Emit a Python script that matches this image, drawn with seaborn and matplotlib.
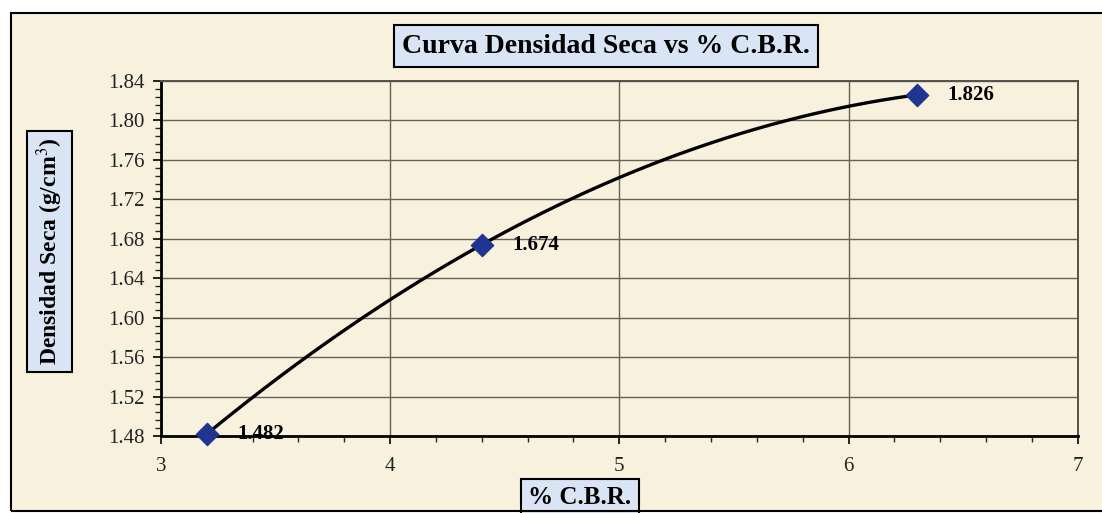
import numpy as np
import pandas as pd
import seaborn as sns
import matplotlib
matplotlib.use("Agg")
import matplotlib.pyplot as plt
from matplotlib.patches import Rectangle
from matplotlib.ticker import MultipleLocator, FormatStrFormatter

cbr = [3.2, 4.4, 6.3]
densidad = [1.482, 1.674, 1.826]
labels = ["1.482", "1.674", "1.826"]
title = "Curva Densidad Seca vs % C.B.R."
xlabel = "% C.B.R."
ylabel = "Densidad Seca (g/cm$^3$)"

df = pd.DataFrame({"cbr": cbr, "dens": densidad})

sns.set_style("white")
plt.rcParams["font.family"] = ["Liberation Serif", "DejaVu Serif"]
plt.rcParams["mathtext.fontset"] = "stix"
plt.rcParams["text.color"] = "black"

bg = "#f8f1dd"
fig = plt.figure(figsize=(11.02, 5.13), dpi=100, facecolor="white")
fig.patches.append(Rectangle((0.010, 0.004), 0.995, 0.970, transform=fig.transFigure,
                             facecolor=bg, edgecolor="none", zorder=-5))
fig.patches.append(Rectangle((0.010, 0.004), 0.995, 0.970, transform=fig.transFigure,
                             fill=False, edgecolor="black", linewidth=1.5, zorder=10))
ax = fig.add_axes([0.146, 0.150, 0.832, 0.692])
ax.set_zorder(1)
ax.set_facecolor(bg)

sns.regplot(data=df, x="cbr", y="dens", order=2, ci=None, truncate=True, ax=ax,
            scatter=False, line_kws=dict(color="black", lw=2.4, zorder=3))
sns.scatterplot(data=df, x="cbr", y="dens", marker="D", s=130, color="#1f3591",
                edgecolor="#1f3591", ax=ax, zorder=4, clip_on=False)

for xv, yv, t in zip(cbr, densidad, labels):
    ax.annotate(t, (xv, yv), xytext=(22, 0), textcoords="offset points", fontsize=15,
                fontweight="bold", va="center", ha="left", zorder=5, color="black")

ax.set_xlim(3, 7)
ax.set_ylim(1.48, 1.84)
ax.xaxis.set_major_locator(MultipleLocator(1))
ax.xaxis.set_minor_locator(MultipleLocator(0.2))
ax.yaxis.set_major_locator(MultipleLocator(0.04))
ax.yaxis.set_minor_locator(MultipleLocator(0.008))
ax.yaxis.set_major_formatter(FormatStrFormatter("%.2f"))
ax.grid(True, which="major", color="#66625a", linewidth=1.0)
ax.tick_params(axis="both", which="major", labelsize=15, direction="out", length=6, width=1.2,
               left=True, bottom=True, colors="black", labelcolor="#222222")
ax.tick_params(axis="both", which="minor", direction="out", length=4, width=1, left=True, bottom=True)
ax.tick_params(axis="x", pad=9)
ax.tick_params(axis="y", pad=6)
for s in ["left", "bottom"]:
    ax.spines[s].set_color("black")
    ax.spines[s].set_linewidth(2)
for s in ["top", "right"]:
    ax.spines[s].set_color("#55524c")
    ax.spines[s].set_linewidth(1.4)
ax.set_xlabel("")
ax.set_ylabel("")

box = dict(boxstyle="square,pad=0.3", facecolor="#d9e4f5", edgecolor="black", linewidth=1.5)
fig.text(0.550, 0.910, title, ha="center", va="center", fontsize=20, fontweight="bold", bbox=box)
fig.text(0.526, 0.030, xlabel, ha="center", va="center", fontsize=18, fontweight="bold", bbox=box)
fig.text(0.045, 0.51, ylabel, ha="center", va="center", rotation=90, fontsize=17,
         fontweight="bold", bbox=box)

fig.savefig("out.png", dpi=100, facecolor="white")
